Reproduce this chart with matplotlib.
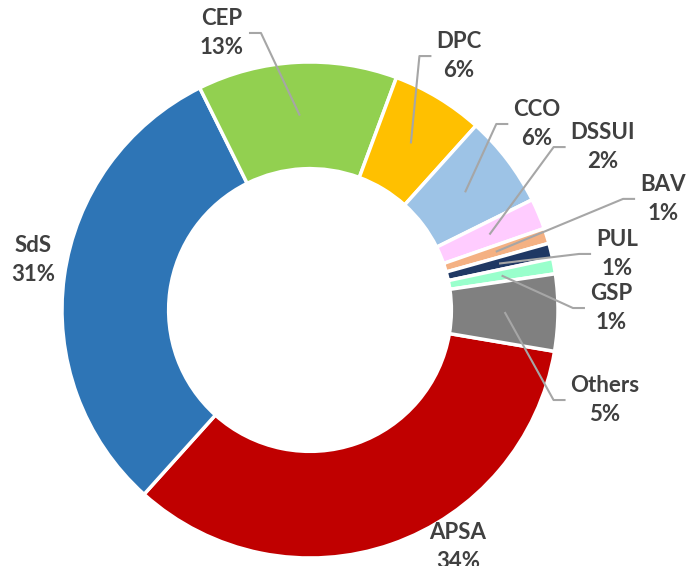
import numpy as np
import matplotlib
matplotlib.use("Agg")
import matplotlib.pyplot as plt

# shares in percent, clockwise order starting with APSA
names = ['APSA', 'SdS', 'CEP', 'DPC', 'CCO', 'DSSUI', 'BAV', 'PUL', 'GSP', 'Others']
shares = [34, 31, 13, 6, 6, 2, 1, 1, 1, 5]
colors = ['#C00000', '#2E75B6', '#92D050', '#FFC000', '#9DC3E6',
          '#FFCCFF', '#F4B183', '#1F3864', '#99FFCC', '#808080']

# label centres (data units, radius = 1) and whether a leader line is drawn
label_pos = {
    'APSA': (0.597, -0.955), 'SdS': (-1.117, 0.202), 'CEP': (-0.355, 1.117),
    'DPC': (0.601, 1.024), 'CCO': (0.915, 0.750), 'DSSUI': (1.181, 0.657),
    'BAV': (1.423, 0.448), 'PUL': (1.238, 0.226), 'GSP': (1.214, 0.008),
    'Others': (1.190, -0.363),
}
no_leader = ['APSA', 'SdS']

plt.rcParams['font.family'] = ['Lato', 'DejaVu Sans']

fig = plt.figure(figsize=(6.87, 5.66), dpi=100)
ax = fig.add_axes([0, 0, 1, 1])
px = 248.0  # pixels per data unit

wedges, _ = ax.pie(shares, colors=colors, startangle=-9.6, counterclock=False,
                   radius=1.0,
                   wedgeprops=dict(width=0.43, edgecolor='white', linewidth=2.5))
ax.set_xlim(-310 / px, (687 - 310) / px)
ax.set_ylim((310 - 566) / px, 310 / px)
ax.set_aspect('equal')
ax.axis('off')

texts = {}
for n, v in zip(names, shares):
    x, y = label_pos[n]
    texts[n] = ax.text(x, y, f'{n}\n{v}%', ha='center', va='center',
                       fontsize=16, fontweight='bold', color='#404040',
                       linespacing=1.45, zorder=5)

fig.canvas.draw()
inv = ax.transData.inverted()
seg = 12 / px
gap = 5 / px
for w, n in zip(wedges, names):
    if n in no_leader:
        continue
    mid = np.deg2rad((w.theta1 + w.theta2) / 2)
    r = 1.0 - 0.43 / 2
    ax_, ay_ = r * np.cos(mid), r * np.sin(mid)
    bb = texts[n].get_window_extent().transformed(inv)
    ty = (bb.y0 + bb.y1) / 2
    if bb.x1 < ax_ + 0.05:
        end = bb.x1 + gap
        elbow = end + seg
    else:
        end = bb.x0 - gap
        elbow = end - seg
    ax.plot([ax_, elbow, end], [ay_, ty, ty], color='#A6A6A6', lw=1.5,
            zorder=4, solid_capstyle='butt')

fig.savefig('out.png', dpi=100)
